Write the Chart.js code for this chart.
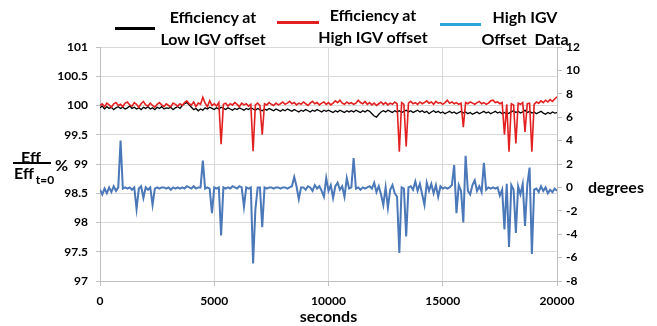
<!DOCTYPE html>
<html>
<head>
<meta charset="utf-8">
<script src="https://cdn.jsdelivr.net/npm/chart.js@4.4.1/dist/chart.umd.min.js"></script>
<style>
  html, body { margin: 0; padding: 0; background: #fff; }
  #wrap { position: relative; width: 657px; height: 326px; font-family: Lato, "DejaVu Sans", sans-serif; font-weight: bold; color: #000; }
  #myChart { position: absolute; left: 0; top: 0; }
  .leg-line { position: absolute; height: 3px; }
  .leg-text { position: absolute; text-align: center; font-size: 16px; line-height: 22px; white-space: nowrap; }
  .lbl { position: absolute; font-size: 16px; white-space: nowrap; }
</style>
</head>
<body>
<div id="wrap">
  <canvas id="myChart" width="657" height="326"></canvas>

  <div class="leg-line" style="left:115px; top:27px; width:40px; background:#000;"></div>
  <div class="leg-text" style="left:150px; top:6px; width:126px;">Efficiency at<br>Low IGV offset</div>

  <div class="leg-line" style="left:277px; top:21px; width:42px; background:#e32020;"></div>
  <div class="leg-text" style="left:310px; top:4px; width:126px;">Efficiency at<br>High IGV offset</div>

  <div class="leg-line" style="left:440px; top:23px; width:41px; background:#2aa5d8;"></div>
  <div class="leg-text" style="left:462px; top:6px; width:126px;">High IGV<br>Offset&nbsp; Data</div>

  <!-- titulo del eje izquierdo en forma de fraccion -->
  <div class="lbl" style="left:21px; top:147px;">Eff</div>
  <div style="position:absolute; left:13px; top:162px; width:38px; height:2px; background:#000;"></div>
  <div class="lbl" style="left:14px; top:163px;">Eff<span style="font-size:12px; position:relative; top:5px; margin-left:2px;">t=0</span></div>
  <div class="lbl" style="left:55px; top:155px;">%</div>

  <div class="lbl" style="left:588px; top:177px;">degrees</div>
</div>

<script>
// muestras cada 100 s, de 0 a 20000 s
const sampleStep = 100;
const seconds = [];
for (let i = 0; i <= 200; i++) seconds.push(i * sampleStep);

// eficiencia con offset IGV bajo (%)
const effLowIGV = [
  99.96, 99.99, 99.94, 99.98, 99.95, 99.97, 99.93, 99.96, 99.98, 99.95,
  99.97, 99.94, 99.96, 99.99, 99.95, 99.97, 99.94, 99.96, 99.93, 99.97,
  99.95, 99.98, 99.94, 99.96, 99.93, 99.97, 99.95, 99.98, 99.94, 99.96,
  99.95, 99.97, 99.93, 99.96, 99.98, 99.95, 100.00, 100.03, 100.05, 100.01,
  99.97, 99.93, 99.95, 99.91, 99.94, 99.92, 99.96, 99.94, 99.97, 99.95,
  99.93, 99.96, 99.94, 99.97, 99.95, 99.93, 99.96, 99.94, 99.92, 99.95,
  99.93, 99.96, 99.94, 99.92, 99.95, 99.93, 99.96, 99.94, 99.92, 99.95,
  99.93, 99.91, 99.94, 99.92, 99.95, 99.93, 99.91, 99.94, 99.92, 99.90,
  99.93, 99.91, 99.94, 99.92, 99.90, 99.93, 99.91, 99.89, 99.92, 99.90,
  99.93, 99.91, 99.89, 99.92, 99.90, 99.93, 99.91, 99.89, 99.92, 99.90,
  99.92, 99.90, 99.88, 99.91, 99.89, 99.92, 99.90, 99.88, 99.91, 99.89,
  99.91, 99.89, 99.92, 99.90, 99.88, 99.91, 99.89, 99.92, 99.90, 99.86,
  99.82, 99.80, 99.85, 99.89, 99.91, 99.89, 99.92, 99.90, 99.88, 99.91,
  99.89, 99.91, 99.88, 99.90, 99.92, 99.89, 99.91, 99.88, 99.90, 99.92,
  99.89, 99.91, 99.88, 99.90, 99.86, 99.89, 99.91, 99.88, 99.90, 99.87,
  99.89, 99.86, 99.88, 99.90, 99.87, 99.89, 99.86, 99.88, 99.90, 99.87,
  99.89, 99.86, 99.88, 99.85, 99.87, 99.89, 99.86, 99.88, 99.90, 99.87,
  99.89, 99.86, 99.88, 99.90, 99.87, 99.89, 99.86, 99.88, 99.85, 99.87,
  99.89, 99.91, 99.88, 99.90, 99.87, 99.89, 99.92, 99.88, 99.90, 99.87,
  99.89, 99.86, 99.88, 99.90, 99.87, 99.85, 99.88, 99.86, 99.89, 99.87, 99.88
];

// eficiencia con offset IGV alto (%)
const effHighIGV = [
  100.00, 100.03, 99.98, 100.04, 100.01, 99.97, 100.03, 100.05, 100.00, 100.02,
  99.98, 100.04, 100.06, 100.01, 99.99, 100.05, 100.02, 99.97, 100.03, 100.07,
  100.01, 99.99, 100.04, 100.00, 99.97, 100.02, 100.05, 100.01, 99.98, 100.03,
  100.00, 99.98, 100.04, 100.02, 99.99, 100.03, 100.00, 100.05, 100.08, 100.03,
  100.01, 100.06, 99.98, 100.04, 100.02, 100.14, 100.04, 99.98, 100.08, 100.00,
  100.03, 99.99, 100.05, 99.34, 100.02, 100.04, 99.99, 100.03, 100.01, 100.05,
  100.02, 99.98, 100.04, 100.01, 100.03, 99.99, 100.02, 99.22, 100.01, 100.04,
  100.00, 99.50, 100.03, 100.01, 100.05, 100.02, 100.00, 100.04, 100.01, 100.03,
  100.06, 100.02, 100.04, 100.07, 100.03, 100.05, 100.01, 100.04, 100.02, 100.06,
  100.03, 100.00, 100.04, 100.07, 100.03, 100.05, 100.01, 100.04, 100.06, 100.02,
  100.05, 100.01, 100.04, 100.08, 100.05, 100.09, 100.04, 100.02, 100.06, 100.03,
  100.05, 100.02, 100.04, 100.09, 100.05, 100.03, 100.07, 100.02, 100.05, 100.01,
  100.04, 100.00, 100.03, 100.06, 100.02, 100.05, 100.01, 100.04, 100.02, 100.06,
  100.03, 99.21, 100.05, 100.02, 99.30, 100.04, 100.07, 100.03, 100.05, 100.02,
  100.06, 100.03, 100.05, 100.08, 100.04, 100.06, 100.02, 100.07, 100.04, 100.05,
  100.02, 100.05, 100.09, 100.04, 100.06, 100.03, 100.05, 100.02, 100.04, 99.63,
  100.05, 100.03, 100.06, 100.04, 100.02, 100.05, 100.07, 100.03, 100.05, 100.02,
  100.04, 100.08, 100.09, 100.05, 100.06, 100.03, 100.05, 99.50, 100.02, 99.21,
  100.03, 100.01, 99.35, 100.04, 100.02, 100.05, 99.55, 100.03, 100.04, 99.21,
  100.02, 100.06, 100.04, 100.08, 100.05, 100.09, 100.06, 100.10, 100.07, 100.11, 100.15
];

// offset IGV alto (grados)
const igvOffsetDeg = [
  -0.2, -0.6, -0.1, -0.5, 0.0, -0.4, 0.1, -0.3, 0.0, 4.0,
  -0.1, 0.0, -0.1, 0.0, -0.2, 0.0, -1.85, -0.1, 0.1, -0.9,
  0.0, -0.2, 0.0, -1.5, -0.1, 0.0, -0.1, 0.0, 0.0, -0.1,
  0.0, -0.2, 0.0, -0.1, 0.0, -0.1, 0.0, -0.1, 0.1, 0.0,
  -0.1, 0.1, -0.1, 0.0, 0.0, 2.3, -0.1, 0.0, -0.1, -2.2,
  0.0, -0.1, 0.0, -4.1, 0.0, -0.1, 0.0, -0.1, 0.1, 0.0,
  -0.1, 0.1, 0.0, -1.65, 0.0, -0.1, 0.0, -6.5, -1.9, 0.0,
  0.0, -3.4, 0.0, -0.1, 0.0, 0.0, -0.1, 0.0, 0.0, -0.1,
  0.0, 0.0, -0.1, 0.0, 0.1, 0.9, 0.1, -1.0, 0.0, 0.0,
  -0.2, 0.1, 0.0, -0.3, 0.2, -0.1, 0.1, -0.3, -0.8, 0.8,
  -0.3, 0.2, -0.9, 0.1, 0.4, -0.2, 0.1, -0.8, 0.8, -0.1,
  0.0, 2.5, -0.1, 0.0, -0.2, 0.0, -0.1, 0.0, 0.1, -0.1,
  0.4, -0.4, 0.1, -0.6, -1.5, 0.0, -1.75, -0.2, 0.2, -0.5,
  -0.8, -5.6, 0.0, -0.1, -4.2, 0.0, 0.1, -0.2, 0.5, -0.3,
  0.3, -0.6, -1.5, 0.4, -0.3, 0.3, -0.5, 0.2, -0.8, 0.1,
  -0.1, 0.0, -0.1, 0.0, 0.2, 1.9, -2.2, 0.2, -0.3, -3.0,
  2.7, -0.3, -0.6, 0.2, 0.6, -0.3, 0.1, -0.4, 2.1, -0.2,
  0.0, -0.1, 0.0, -0.1, 0.0, -0.7, -0.2, -3.6, 0.3, -5.1,
  0.2, -0.2, -3.9, 0.1, -0.6, 0.3, -3.3, 0.2, 1.7, -5.7,
  -0.2, -0.1, -0.4, 0.1, -0.3, 0.0, -0.5, -0.2, -0.4, -0.1, -0.3
];

const toXY = (arr) => arr.map((v, i) => ({ x: seconds[i], y: v }));

const tickFont = { family: 'Lato', size: 12, weight: 'bold' };
const gridColor = '#d9d9d9';
const axisColor = '#bfbfbf';

const ctx = document.getElementById('myChart').getContext('2d');

const chart = new Chart(ctx, {
  type: 'line',
  data: {
    datasets: [
      {
        label: 'Efficiency at High IGV offset',
        data: toXY(effHighIGV),
        borderColor: '#e32020',
        borderWidth: 1.6,
        yAxisID: 'yEff',
        order: 1
      },
      {
        label: 'Efficiency at Low IGV offset',
        data: toXY(effLowIGV),
        borderColor: '#000000',
        borderWidth: 1.3,
        yAxisID: 'yEff',
        order: 2
      },
      {
        label: 'High IGV Offset Data',
        data: toXY(igvOffsetDeg),
        borderColor: '#4a78b8',
        borderWidth: 2,
        yAxisID: 'yDeg',
        order: 3
      }
    ]
  },
  options: {
    responsive: false,
    animation: false,
    layout: { padding: { top: 47, left: 0, right: 0, bottom: 0 } },
    elements: { point: { radius: 0 }, line: { tension: 0 } },
    plugins: { legend: { display: false }, tooltip: { enabled: false } },
    scales: {
      x: {
        type: 'linear',
        min: 0,
        max: 20000,
        ticks: { stepSize: 5000, color: '#000', font: tickFont, padding: 8, maxRotation: 0,
                 callback: (v) => String(v) },
        grid: { color: gridColor, tickColor: axisColor, tickLength: 5 },
        border: { color: axisColor },
        title: { display: true, text: 'seconds', color: '#000',
                 font: { family: 'Lato', size: 16, weight: 'bold' }, padding: { top: 0, bottom: 0 } },
        afterFit: (scale) => { scale.height = 45; }
      },
      yEff: {
        position: 'left',
        min: 97,
        max: 101,
        ticks: { stepSize: 0.5, color: '#000', font: tickFont, padding: 8,
                 callback: (v) => String(Math.round(v * 10) / 10) },
        grid: { color: gridColor, tickColor: axisColor, tickLength: 4 },
        border: { color: axisColor },
        afterFit: (scale) => { scale.width = 100; }
      },
      yDeg: {
        position: 'right',
        min: -8,
        max: 12,
        ticks: { stepSize: 2, color: '#000', font: tickFont, padding: 4 },
        grid: { drawOnChartArea: false, tickColor: axisColor, tickLength: 5 },
        border: { color: axisColor },
        afterFit: (scale) => { scale.width = 100; }
      }
    }
  }
});
</script>
</body>
</html>
